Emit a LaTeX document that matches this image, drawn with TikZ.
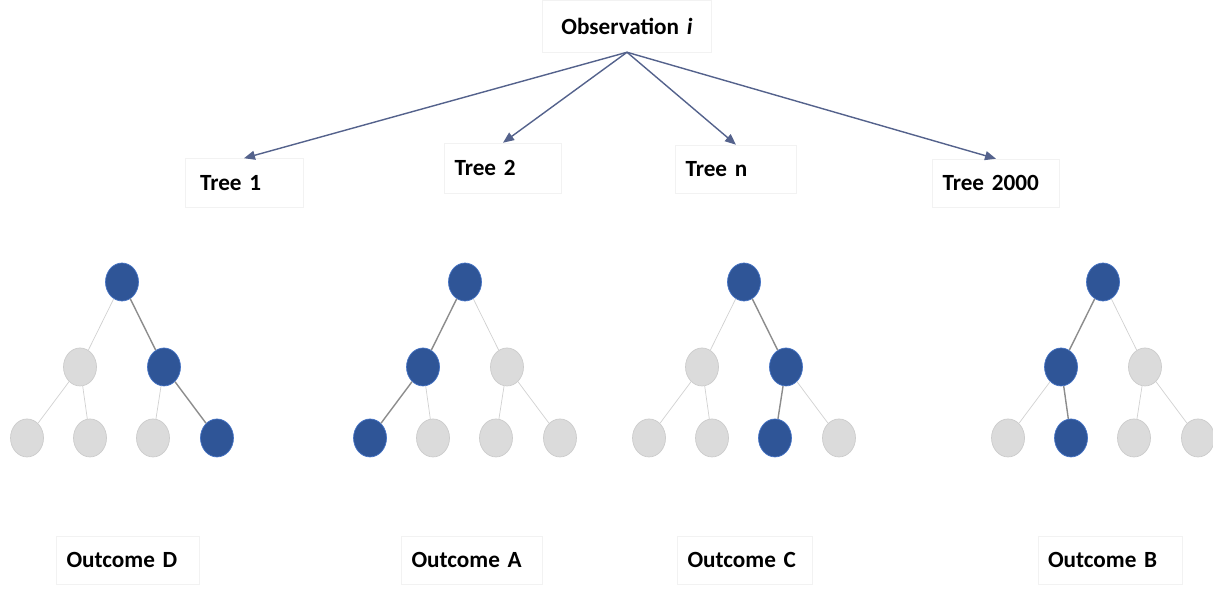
\documentclass[tikz,border=0pt]{standalone}
\usepackage{fontspec}
\setmainfont{Carlito}
\usepackage{xcolor}
\usepackage{tikz}
\usetikzlibrary{shapes}
\usetikzlibrary{arrows.meta}
\definecolor{nodeblue}{RGB}{47,85,151}
\definecolor{rimblue}{RGB}{68,114,196}
\definecolor{arrowgray}{RGB}{84,98,140}
\tikzset{
	blue node/.style={ellipse,draw=rimblue,fill=nodeblue,line width=0.4pt,minimum width=0.66cm,minimum height=0.76cm,inner sep=0pt},
	gray node/.style={ellipse,draw=black!20,fill=black!14,line width=0.4pt,minimum width=0.66cm,minimum height=0.76cm,inner sep=0pt},
	label box/.style={draw=black!5,line width=0.3pt,font=\bfseries\fontsize{13.2}{16}\selectfont,inner xsep=0.2cm,inner ysep=0pt,align=left},
	path edge/.style={draw=black!45,line width=0.8pt},
	plain edge/.style={draw=black!18,line width=0.4pt},
	obs arrow/.style={->,draw=arrowgray,line width=0.8pt}
}

\begin{document}
\begin{tikzpicture}[x=0.02cm,y=-0.02cm,>={Triangle[length=2.2mm,width=1.8mm]},node distance=1.7cm]
	\useasboundingbox (0,0) rectangle (1213,597);
	% labels
	\node[label box,align=center,text width=2.98cm,minimum height=1.04cm] (0) at (627,26)   {Observation \textit{i}};
	\node[label box,text width=1.96cm,minimum height=0.98cm]              (1) at (244,183)  {\hspace{0.1cm}Tree 1};
	\node[label box,text width=1.94cm,minimum height=1.0cm]               (2) at (503,168)  {Tree 2};
	\node[label box,text width=2.02cm,minimum height=0.96cm]              (3) at (736,169)  {Tree n};
	\node[label box,text width=2.14cm,minimum height=0.96cm]              (4) at (996,183)  {Tree 2000};

	\path (0.south) edge[obs arrow] (1.north)
	      (0.south) edge[obs arrow] (2.north)
	      (0.south) edge[obs arrow] (3.north)
	      (0.south) edge[obs arrow] (4.north);

	% tree 1
	\node[blue node] (11) at (122,282) {};
	\node[gray node] (12) [below of=11,xshift=-0.84cm] {};
	\node[blue node] (13) [below of=11,xshift=0.84cm] {};
	\node[gray node] (14) [below of=12,yshift=0.28cm,xshift=-1.06cm] {};
	\node[gray node] (15) [below of=12,yshift=0.28cm,xshift=0.2cm] {};
	\node[gray node] (16) [below of=13,yshift=0.28cm,xshift=-0.22cm] {};
	\node[blue node] (17) [below of=13,yshift=0.28cm,xshift=1.06cm] {};
	% tree 2
	\node[blue node] (21) at (465,282) {};
	\node[blue node] (22) [below of=21,xshift=-0.84cm] {};
	\node[gray node] (23) [below of=21,xshift=0.84cm] {};
	\node[blue node] (24) [below of=22,yshift=0.28cm,xshift=-1.06cm] {};
	\node[gray node] (25) [below of=22,yshift=0.28cm,xshift=0.2cm] {};
	\node[gray node] (26) [below of=23,yshift=0.28cm,xshift=-0.22cm] {};
	\node[gray node] (27) [below of=23,yshift=0.28cm,xshift=1.06cm] {};
	% tree n
	\node[blue node] (31) at (744,282) {};
	\node[gray node] (32) [below of=31,xshift=-0.84cm] {};
	\node[blue node] (33) [below of=31,xshift=0.84cm] {};
	\node[gray node] (34) [below of=32,yshift=0.28cm,xshift=-1.06cm] {};
	\node[gray node] (35) [below of=32,yshift=0.28cm,xshift=0.2cm] {};
	\node[blue node] (36) [below of=33,yshift=0.28cm,xshift=-0.22cm] {};
	\node[gray node] (37) [below of=33,yshift=0.28cm,xshift=1.06cm] {};
	% tree 2000
	\node[blue node] (41) at (1103,282) {};
	\node[blue node] (42) [below of=41,xshift=-0.84cm] {};
	\node[gray node] (43) [below of=41,xshift=0.84cm] {};
	\node[gray node] (44) [below of=42,yshift=0.28cm,xshift=-1.06cm] {};
	\node[blue node] (45) [below of=42,yshift=0.28cm,xshift=0.2cm] {};
	\node[gray node] (46) [below of=43,yshift=0.28cm,xshift=-0.22cm] {};
	\node[gray node] (47) [below of=43,yshift=0.28cm,xshift=1.06cm] {};

	\path (11) edge[plain edge] (12)   (11) edge[path edge] (13)
	      (12) edge[plain edge] (14)   (12) edge[plain edge] (15)
	      (13) edge[plain edge] (16)   (13) edge[path edge] (17)
	      (21) edge[path edge] (22)    (21) edge[plain edge] (23)
	      (22) edge[path edge] (24)    (22) edge[plain edge] (25)
	      (23) edge[plain edge] (26)   (23) edge[plain edge] (27)
	      (31) edge[plain edge] (32)   (31) edge[path edge] (33)
	      (32) edge[plain edge] (34)   (32) edge[plain edge] (35)
	      (33) edge[path edge] (36)    (33) edge[plain edge] (37)
	      (41) edge[path edge] (42)    (41) edge[plain edge] (43)
	      (42) edge[plain edge] (44)   (42) edge[path edge] (45)
	      (43) edge[plain edge] (46)   (43) edge[plain edge] (47);

	% outcomes
	\node[label box,text width=2.46cm,minimum height=0.96cm] (o1) at (128,560)  {Outcome D};
	\node[label box,text width=2.42cm,minimum height=0.96cm] (o2) at (472,560)  {Outcome A};
	\node[label box,text width=2.3cm,minimum height=0.96cm]  (o3) at (745,560)  {Outcome C};
	\node[label box,text width=2.48cm,minimum height=0.96cm] (o4) at (1110,560) {Outcome B};
\end{tikzpicture}
\end{document}
